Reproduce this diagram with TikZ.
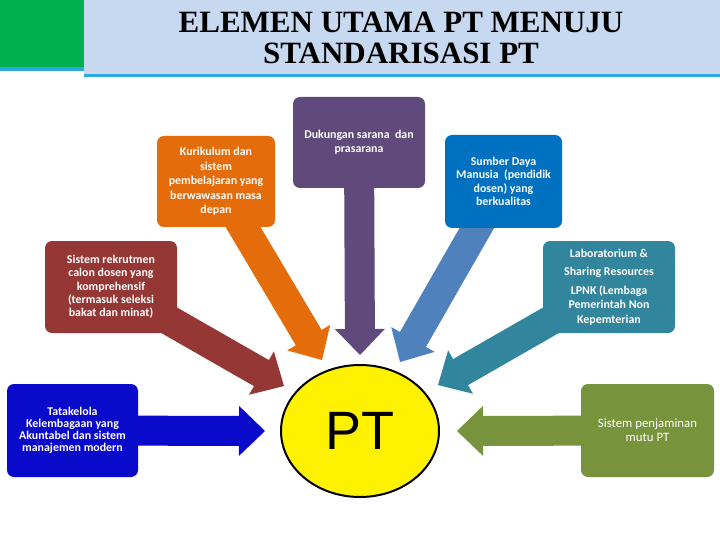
\documentclass[tikz,border=0pt]{standalone}
\usepackage{fontspec}
\setmainfont{Carlito}
\newfontfamily\titlefont{Liberation Serif}
\newfontfamily\ptfont{Liberation Sans}
\usetikzlibrary{calc,backgrounds,shapes.geometric}

\definecolor{hdrblue}{HTML}{C6D9F1}
\definecolor{hdrgreen}{HTML}{00B050}
\definecolor{hdrline}{HTML}{2AA8E0}
\definecolor{kurorange}{HTML}{E46C0A}
\definecolor{sarpurple}{HTML}{604A7B}
\definecolor{sdmblue}{HTML}{0070C0}
\definecolor{sdmarrow}{HTML}{4F81BD}
\definecolor{labteal}{HTML}{31859C}
\definecolor{rekred}{HTML}{953735}
\definecolor{tatablue}{HTML}{0A0ACB}
\definecolor{spmgreen}{HTML}{77933C}

% fat block arrow: colour, from, to
\newcommand{\blockarrow}[3]{%
  \path (#2) coordinate (ba-s) (#3) coordinate (ba-t);
  \path ($(ba-t)!26pt!(ba-s)$) coordinate (ba-h);
  \fill[#1] ($(ba-s)!15pt!90:(ba-t)$) -- ($(ba-h)!15pt!90:(ba-t)$)
    -- ($(ba-h)!25pt!90:(ba-t)$) -- (ba-t) -- ($(ba-h)!25pt!-90:(ba-t)$)
    -- ($(ba-h)!15pt!-90:(ba-t)$) -- ($(ba-s)!15pt!-90:(ba-t)$) -- cycle;}

\begin{document}
\begin{tikzpicture}[x=1pt, y=-1pt,
    elbox/.style={rounded corners=7pt, align=center, text=white, inner sep=2pt,
      font=\bfseries\fontsize{11.9}{#1}\selectfont},
    elbox/.default=14.5,
    pt/.style={ellipse, draw=black, line width=2pt, fill=yellow,
      minimum width=158pt, minimum height=132pt, font=\ptfont\fontsize{54}{60}\selectfont}]
\useasboundingbox (0,0) rectangle (720,540);
% header
\fill[hdrblue] (84,0) rectangle (720,74);
\fill[hdrline] (84,74) rectangle (720,77);
\fill[hdrgreen] (0,0) rectangle (84,67);
\fill[hdrline] (0,67) rectangle (84,71);
\node[font=\titlefont\bfseries\fontsize{31}{31}\selectfont, align=center] (title) at (401,38)
  {ELEMEN UTAMA PT MENUJU\\STANDARISASI PT};
% boxes
\node[elbox, fill=kurorange, minimum width=118pt, minimum height=91pt] (kur) at (216,181.5)
  {Kurikulum dan\\sistem\\pembelajaran yang\\berwawasan masa\\depan};
\node[elbox, fill=sarpurple, minimum width=132pt, minimum height=91pt] (sar) at (359,142.5)
  {Dukungan sarana\ \ dan\\prasarana};
\node[elbox=13.3, fill=sdmblue, minimum width=117pt, minimum height=93pt] (sdm) at (503.5,181.5)
  {Sumber Daya\\Manusia\ \ (pendidik\\dosen) yang\\berkualitas};
\node[elbox, fill=labteal, minimum width=132pt, minimum height=92pt] (lab) at (609,287)
  {Laboratorium \&\\[4pt]Sharing Resources\\[4pt]LPNK (Lembaga\\Pemerintah Non\\Kepemterian};
\node[elbox=13.3, fill=rekred, minimum width=132pt, minimum height=92pt] (rek) at (111,287)
  {Sistem rekrutmen\\calon dosen yang\\komprehensif\\(termasuk seleksi\\bakat dan minat)};
\node[elbox=12.2, fill=tatablue, minimum width=131pt, minimum height=93pt] (tata) at (72.5,430.5)
  {Tatakelola\\Kelembagaan yang\\Akuntabel dan sistem\\manajemen modern};
\node[elbox, fill=spmgreen, minimum width=133pt, minimum height=93pt,
  font=\mdseries\fontsize{12.8}{14}\selectfont] (spm) at (647.5,430.5)
  {Sistem penjaminan\\mutu PT};
% centre
\node[pt] (ptc) at (360,431) {PT};
% arrow tips
\coordinate (kur-tip) at (322,360);
\coordinate (sar-tip) at (360,355);
\coordinate (sdm-tip) at (400,362);
\coordinate (lab-tip) at (438,385);
\coordinate (rek-tip) at (284,386);
\coordinate (tata-tip) at (265,431);
\coordinate (spm-tip) at (457,431);
\begin{scope}[on background layer]
\blockarrow{kurorange}{kur.center}{kur-tip}
\blockarrow{sarpurple}{sar.center}{sar-tip}
\blockarrow{sdmarrow}{sdm.center}{sdm-tip}
\blockarrow{labteal}{lab.center}{lab-tip}
\blockarrow{rekred}{rek.center}{rek-tip}
\blockarrow{tatablue}{tata.center}{tata-tip}
\blockarrow{spmgreen}{spm.center}{spm-tip}
\end{scope}
\end{tikzpicture}
\end{document}
